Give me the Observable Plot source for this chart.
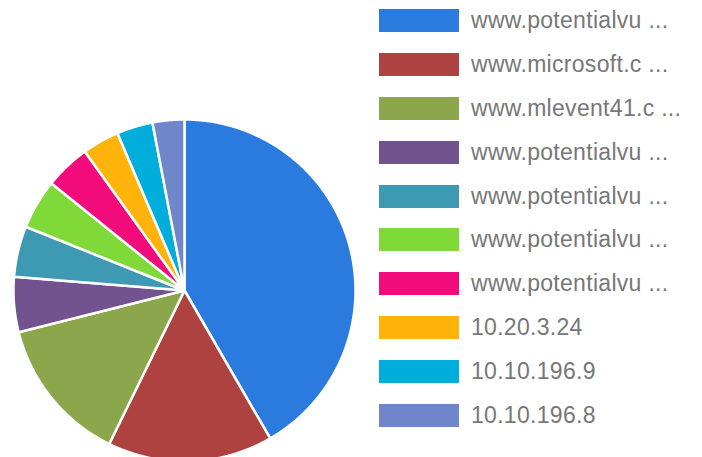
<!DOCTYPE html>
<html>
<head>
<meta charset="utf-8">
<script src="https://cdn.jsdelivr.net/npm/d3@7"></script>
<script src="https://cdn.jsdelivr.net/npm/@observablehq/plot@0.6"></script>
<style>
  html, body { margin: 0; padding: 0; background: #fff; }
  #wrap { position: relative; width: 702px; height: 457px; overflow: hidden; font-family: "Liberation Sans", Arial, sans-serif; }
  #chart { position: absolute; left: 0; top: 0; }
  #legend { position: absolute; left: 379px; top: 9px; }
  .row { display: flex; align-items: center; height: 23px; margin-bottom: 20.9px; }
  .sw { width: 80px; height: 23px; box-sizing: border-box; flex: none; }
  .lab { margin-left: 12px; font-size: 23px; letter-spacing: 0.3px; color: #777; white-space: pre; line-height: 23px; }
</style>
</head>
<body>
<div id="wrap"><div id="chart"></div><div id="legend"></div></div>
<script>
const labels = [
  "www.potentialvu ...",
  "www.microsoft.c ...",
  "www.mlevent41.c ...",
  "www.potentialvu ...",
  "www.potentialvu ...",
  "www.potentialvu ...",
  "www.potentialvu ...",
  "10.20.3.24",
  "10.10.196.9",
  "10.10.196.8"
];
const values = [416, 156, 138, 52, 48, 47, 43, 35, 34, 30];
const colors = ["#2b7bde", "#ad4240", "#8ca74b", "#735290", "#3e9ab2", "#7fda39", "#f20b7b", "#ffb30b", "#00addb", "#6f87ca"];

const keys = labels.map((_, i) => i);
const W = 370, H = 457, cx = 184, cy = 290, R = 171;

const arcs = d3.pie().sort(null).value(i => values[i])(keys);
const pts = [];
for (const a of arcs) {
  const k = a.data;
  pts.push({k, x: 0, y: 0});
  const n = Math.max(2, Math.ceil((a.endAngle - a.startAngle) / (Math.PI / 360)));
  for (let j = 0; j <= n; j++) {
    const t = a.startAngle + (a.endAngle - a.startAngle) * j / n;
    pts.push({k, x: Math.sin(t), y: Math.cos(t)});
  }
}

const chart = Plot.plot({
  width: W, height: H,
  margin: 0,
  x: {domain: [-cx / R, (W - cx) / R], range: [0, W], axis: null},
  y: {domain: [-(H - cy) / R, cy / R], range: [H, 0], axis: null},
  color: {type: "ordinal", domain: keys, range: colors},
  marks: [
    Plot.line(pts, {x: "x", y: "y", z: "k", fill: "k", stroke: "white", strokeWidth: 2.5, strokeLinejoin: "round", curve: "linear-closed"})
  ]
});
document.getElementById("chart").appendChild(chart);

const leg = document.getElementById("legend");
keys.forEach(i => {
  const row = document.createElement("div");
  row.className = "row";
  const sw = document.createElement("div");
  sw.className = "sw";
  sw.style.background = colors[i];
  const lab = document.createElement("div");
  lab.className = "lab";
  lab.textContent = labels[i];
  row.appendChild(sw); row.appendChild(lab);
  leg.appendChild(row);
});
</script>
</body>
</html>
